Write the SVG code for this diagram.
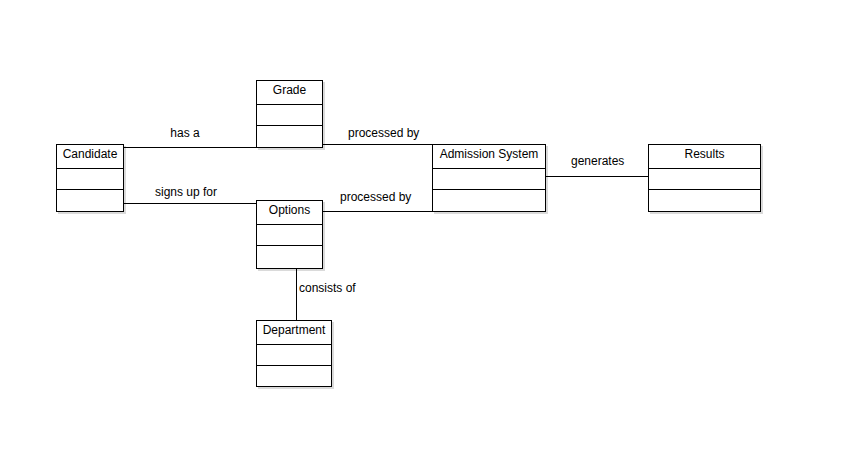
<svg xmlns="http://www.w3.org/2000/svg" width="864" height="467" viewBox="0 0 864 467">
<style>
.shadow{fill:#dadada;stroke:none}
.box{fill:#ffffff;stroke:#000000;stroke-width:1}
.div{stroke:#000000;stroke-width:1}
.conn{stroke:#000000;stroke-width:1;fill:none}
text{font-family:"Liberation Sans",Arial,sans-serif;font-size:12px;fill:#000000}
.title{text-anchor:middle}
</style>
<rect width="864" height="467" fill="#ffffff"/>
<g id="grade">
<rect class="shadow" x="258" y="82" width="67" height="68"/>
<rect class="box" x="256.5" y="80.5" width="66" height="67"/>
<path class="div" d="M256.5 104.5 H322.5 M256.5 125.5 H322.5"/>
<text class="title" x="289.5" y="94">Grade</text>
</g>
<g id="candidate">
<rect class="shadow" x="58" y="146" width="68" height="68"/>
<rect class="box" x="56.5" y="144.5" width="67" height="67"/>
<path class="div" d="M56.5 168.5 H123.5 M56.5 189.5 H123.5"/>
<text class="title" x="90" y="158">Candidate</text>
</g>
<g id="options">
<rect class="shadow" x="258" y="202" width="67" height="69"/>
<rect class="box" x="256.5" y="200.5" width="66" height="68"/>
<path class="div" d="M256.5 224.5 H322.5 M256.5 245.5 H322.5"/>
<text class="title" x="289.5" y="214">Options</text>
</g>
<g id="department">
<rect class="shadow" x="258" y="322" width="76" height="67"/>
<rect class="box" x="256.5" y="320.5" width="75" height="66"/>
<path class="div" d="M256.5 344.5 H331.5 M256.5 365.5 H331.5"/>
<text class="title" x="294" y="334">Department</text>
</g>
<g id="admission">
<rect class="shadow" x="434" y="146" width="114" height="68"/>
<rect class="box" x="432.5" y="144.5" width="113" height="67"/>
<path class="div" d="M432.5 168.5 H545.5 M432.5 189.5 H545.5"/>
<text class="title" x="489" y="158">Admission System</text>
</g>
<g id="results">
<rect class="shadow" x="650" y="146" width="113" height="68"/>
<rect class="box" x="648.5" y="144.5" width="112" height="67"/>
<path class="div" d="M648.5 168.5 H760.5 M648.5 189.5 H760.5"/>
<text class="title" x="704.5" y="158">Results</text>
</g>
<g id="connectors">
<path class="conn" d="M123 147.5 H257"/>
<path class="conn" d="M123 203.5 H257"/>
<path class="conn" d="M322 144.5 H433"/>
<path class="conn" d="M322 211.5 H433"/>
<path class="conn" d="M545 176.5 H649"/>
<path class="conn" d="M296.5 268 V321"/>
<text x="185" y="137" text-anchor="middle">has a</text>
<text x="155" y="196">signs up for</text>
<text x="348" y="137">processed by</text>
<text x="340" y="201">processed by</text>
<text x="571" y="165">generates</text>
<text x="299" y="292">consists of</text>
</g>
</svg>
